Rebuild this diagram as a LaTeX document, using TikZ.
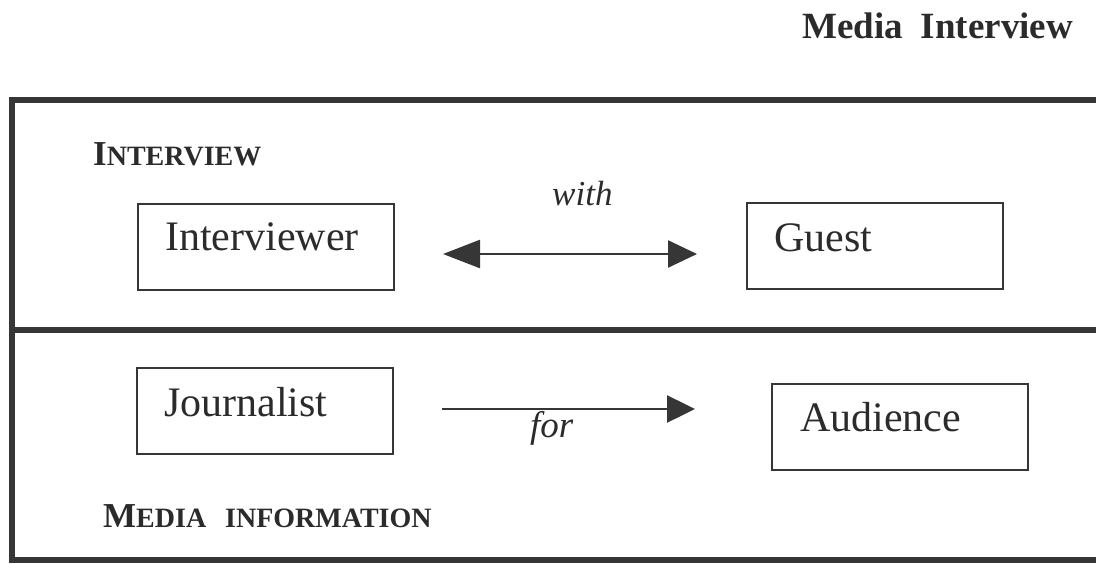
\documentclass[tikz,border=0pt]{standalone}
\usepackage{fontspec}
\setmainfont{Liberation Serif}
\usetikzlibrary{arrows.meta}

\definecolor{ink}{HTML}{2B2B2B}
\definecolor{rule}{HTML}{363636}

\tikzset{
  frame/.style={draw=rule, line width=6pt, line join=miter},
  rolebox/.style={draw=rule, line width=2pt, minimum width=256pt, minimum height=86pt, inner sep=0pt},
  roletext/.style={anchor=base west, inner sep=0pt, text=ink, font=\fontsize{42}{48}\selectfont},
  linktext/.style={anchor=base west, inner sep=0pt, text=ink, font=\itshape\fontsize{36}{40}\selectfont},
  section/.style={anchor=base west, inner sep=0pt, text=ink, font=\bfseries},
  link/.style={draw=rule, line width=2.5pt},
}

\newcommand{\bigsc}[1]{{\fontsize{35}{40}\selectfont #1}}
\newcommand{\smallsc}[1]{{\fontsize{28}{32}\selectfont #1}}

\begin{document}
\begin{tikzpicture}[x=1pt, y=-1pt]
  \useasboundingbox (0,0) rectangle (1096,563);

  % title
  \node[section, font=\bfseries\fontsize{37}{42}\selectfont] (title) at (802,38) {Media\hspace{18pt}Interview};

  % outer frame, open to the right, split in two bands
  \draw[frame] (1110,100) -- (11.5,100) -- (11.5,560) -- (1110,560);
  \draw[frame] (11.5,330) -- (1110,330);

  % band headings
  \node[section] (hInterview) at (93,165) {\bigsc{I}\smallsc{NTERVIEW}};
  \node[section] (hMedia) at (103,527) {\bigsc{M}\smallsc{EDIA}\hspace{19pt}\smallsc{INFORMATION}};

  % role boxes
  \node[rolebox] (iv) at (266,246.5) {};
  \node[rolebox] (gu) at (875,246) {};
  \node[rolebox] (jo) at (265,410.5) {};
  \node[rolebox] (au) at (900,426.5) {};

  \node[roletext] (ivT) at ([shift={(28,48)}]iv.north west) {Interviewer};
  \node[roletext] (guT) at ([shift={(28,49)}]gu.north west) {Guest};
  \node[roletext] (joT) at ([shift={(28,50)}]jo.north west) {Journalist};
  \node[roletext] (auT) at ([shift={(29,49)}]au.north west) {Audience};

  % connectors
  \coordinate (wL) at (443,254);
  \coordinate (wR) at (697,254);
  \draw[link, {Triangle[length=37pt, width=28pt]}-{Triangle[length=29pt, width=27pt]}] (wL) -- (wR);
  \node[linktext, font=\itshape\fontsize{35}{40}\selectfont] (with) at (552,205) {with};

  \coordinate (fL) at (442,409);
  \coordinate (fR) at (695,409);
  \draw[link, -{Triangle[length=28pt, width=27pt]}] (fL) -- (fR);
  \node[linktext, font=\itshape\fontsize{37}{40}\selectfont] (for) at (530,437) {for};
\end{tikzpicture}
\end{document}
